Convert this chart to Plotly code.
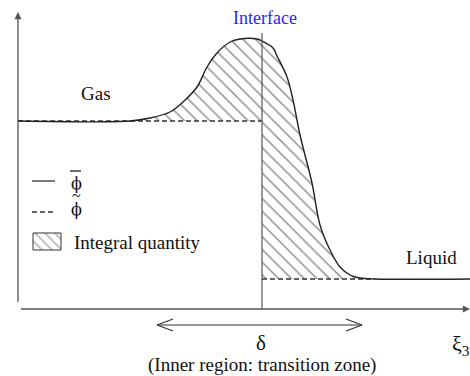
import plotly.graph_objects as go

# ---- data (schematic units: xi along axis, phi value) ----
xi = [0, 112, 132, 152, 165, 179, 189, 199, 212, 222, 239, 244, 255, 259, 269, 275,
      282, 294, 302, 312, 322, 332, 342, 357, 452]
phi_bar = [188, 188, 191, 197, 207, 222, 242, 256, 267, 270, 270, 268, 261, 253, 232, 209,
           174, 126, 84, 59, 42, 34, 31, 30, 30]
gas_level = 188
liquid_level = 30
interface_xi = 244
delta_range = [139, 344]

FONT = "Liberation Serif"
INK = "#333333"
HATCH = dict(shape="\\", fgcolor="#1a1a1a", bgcolor="rgba(0,0,0,0)", size=9, solidity=0.16)

fig = go.Figure()

# hatched regions (baseline trace, then curve filled to it)
left_idx = [i for i, x in enumerate(xi) if 112 <= x <= interface_xi]
right_idx = [i for i, x in enumerate(xi) if interface_xi <= x <= 357]
for idx, lvl in ((left_idx, gas_level), (right_idx, liquid_level)):
    xs = [xi[i] for i in idx]
    ys = [phi_bar[i] for i in idx]
    fig.add_trace(go.Scatter(x=[xs[0], xs[-1]], y=[lvl, lvl], mode="lines",
                             line=dict(width=0), hoverinfo="skip", showlegend=False))
    fig.add_trace(go.Scatter(x=xs, y=ys, mode="lines", line=dict(width=0, shape="spline"),
                             fill="tonexty", fillcolor="rgba(0,0,0,0)", fillpattern=HATCH,
                             hoverinfo="skip", showlegend=False))

DASH = "5px,3px"
# phi tilde (dashed)
fig.add_trace(go.Scatter(x=[0, interface_xi], y=[gas_level, gas_level], mode="lines",
                         line=dict(color=INK, width=1.3, dash=DASH), showlegend=False))
fig.add_trace(go.Scatter(x=[interface_xi, 357], y=[liquid_level, liquid_level], mode="lines",
                         line=dict(color=INK, width=1.3, dash=DASH), showlegend=False))

# phi bar (solid curve)
fig.add_trace(go.Scatter(x=xi, y=phi_bar, mode="lines",
                         line=dict(color="#222222", width=1.4, shape="spline"), showlegend=False))

# interface line
fig.add_trace(go.Scatter(x=[interface_xi, interface_xi], y=[0, 276], mode="lines",
                         line=dict(color="#555555", width=1.2), showlegend=False))

# delta double arrow
ya = -16
fig.add_trace(go.Scatter(x=delta_range, y=[ya, ya], mode="lines",
                         line=dict(color=INK, width=1.2), showlegend=False))
for tip, s in ((delta_range[0], 1), (delta_range[1], -1)):
    fig.add_trace(go.Scatter(x=[tip + 16 * s, tip, tip + 16 * s], y=[ya + 6, ya, ya - 6],
                             mode="lines", line=dict(color=INK, width=1.2), showlegend=False))

# legend samples
fig.add_trace(go.Scatter(x=[14, 37], y=[128, 128], mode="lines",
                         line=dict(color=INK, width=1.3), showlegend=False))
fig.add_trace(go.Scatter(x=[14, 37], y=[97, 97], mode="lines",
                         line=dict(color=INK, width=1.3, dash=DASH), showlegend=False))
fig.add_trace(go.Scatter(x=[15, 43, 43, 15, 15], y=[76, 76, 59, 59, 76], mode="lines",
                         fill="toself", fillcolor="rgba(0,0,0,0)", fillpattern=dict(HATCH, size=7),
                         line=dict(color=INK, width=1), showlegend=False))
# overbar of phi-bar symbol
fig.add_trace(go.Scatter(x=[52, 63], y=[138, 138], mode="lines",
                         line=dict(color="#111111", width=1.2), showlegend=False))

TXT = 19
PHI_FONT = dict(size=16, color="#111111", family="DejaVu Serif")
annotations = [
    # axes
    dict(x=0, y=297, ax=0, ay=0, axref="x", ayref="y", xref="x", yref="y", text=" ",
         font=dict(size=10), showarrow=True, arrowhead=2, arrowsize=1.1, arrowwidth=1.3,
         arrowcolor="#555555"),
    dict(x=452, y=0, ax=0, ay=0, axref="x", ayref="y", xref="x", yref="y", text=" ",
         font=dict(size=10), showarrow=True, arrowhead=2, arrowsize=1.1, arrowwidth=1.3,
         arrowcolor="#555555"),
    dict(x=247, y=291, text="Interface", font=dict(color="#1f1fff", size=18)),
    dict(x=78, y=216, text="Gas"),
    dict(x=413, y=52, text="Liquid"),
    dict(x=243, y=-34, text="δ", font=dict(size=21, color="#111111")),
    dict(x=244, y=-56, text="(Inner region: transition zone)"),
    dict(x=432, y=-36, text="ξ<sub>3</sub>", xanchor="left", font=dict(size=22, color="#111111")),
    # legend symbols: phi with bar, phi with tilde
    dict(x=58, y=126, text="ϕ", font=dict(PHI_FONT)),
    dict(x=58, y=100, text="ϕ", font=dict(PHI_FONT)),
    dict(x=58, y=114, text="~", font=dict(size=16, color="#111111")),
    dict(x=54, y=67, text="Integral quantity", xanchor="left"),
]
for a in annotations:
    a.setdefault("showarrow", False)
    a.setdefault("xref", "x")
    a.setdefault("yref", "y")
    a.setdefault("font", dict(size=TXT, color="#111111"))
    a["font"].setdefault("family", FONT)

fig.update_layout(
    width=470, height=376, margin=dict(l=0, r=0, t=0, b=0),
    paper_bgcolor="white", plot_bgcolor="white",
    xaxis=dict(visible=False, range=[-18, 452], fixedrange=True),
    yaxis=dict(visible=False, range=[-67, 309], fixedrange=True),
    annotations=annotations, font=dict(family=FONT),
)
fig.write_html("out.html", config={"displayModeBar": False})
with open("out.html", encoding="utf-8") as f:
    html = f.read()
html = html.replace("<head>", "<head><style>html,body{margin:0;padding:0;overflow:hidden}</style>", 1)
with open("out.html", "w", encoding="utf-8") as f:
    f.write(html)
